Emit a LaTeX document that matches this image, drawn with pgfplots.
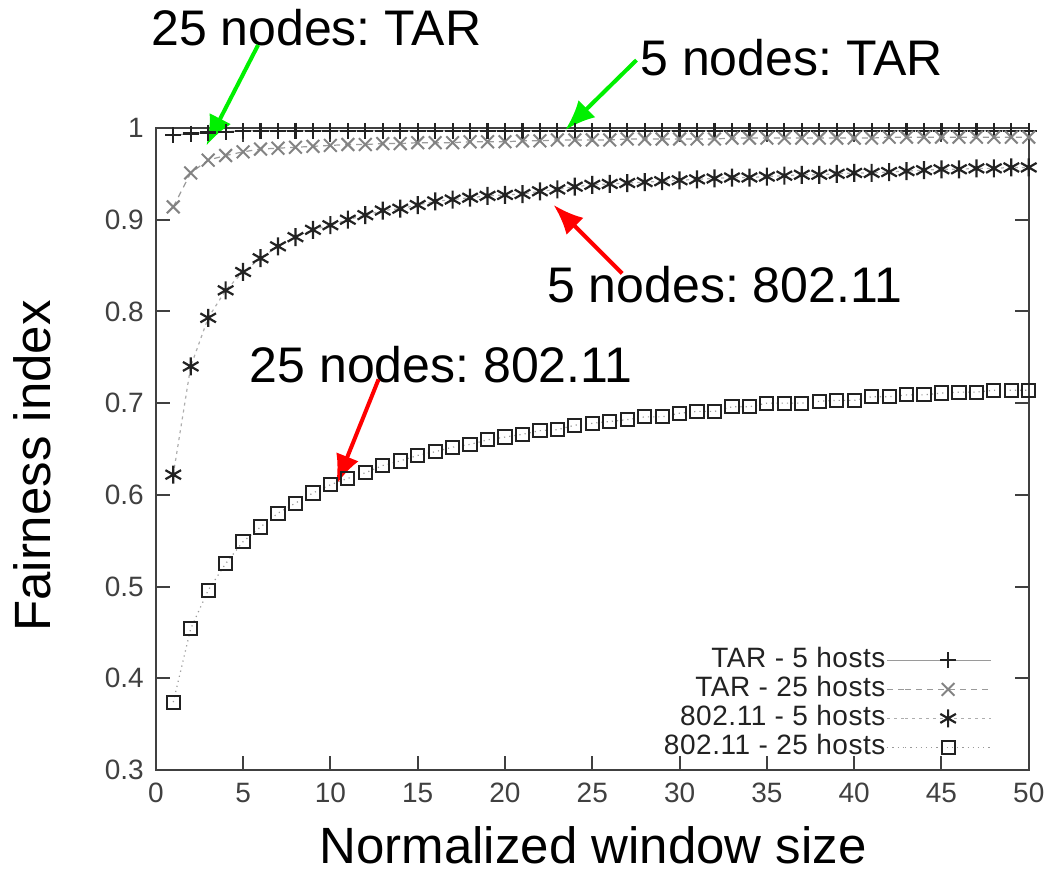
\documentclass[border=0pt]{standalone}
\usepackage{fontspec}
\setmainfont{Liberation Sans}
\newfontfamily\legendfont[LetterSpace=2]{Liberation Sans}
\usepackage{pgfplots}
\pgfplotsset{compat=1.18}
\usetikzlibrary{arrows.meta}

\definecolor{axisgray}{HTML}{404040}
\definecolor{linegray}{HTML}{9A9A9A}
\definecolor{markdark}{HTML}{222222}
\definecolor{argreen}{HTML}{00F000}
\definecolor{arred}{HTML}{FF0000}

% Fairness index vs normalized window size
\pgfplotstableread{
x tar5 tar25 wifi5 wifi25
1 0.992 0.914 0.622 0.374
2 0.994 0.951 0.740 0.454
3 0.995 0.965 0.793 0.496
4 0.996 0.970 0.823 0.525
5 0.997 0.974 0.843 0.549
6 0.997 0.977 0.858 0.565
7 0.997 0.978 0.871 0.580
8 0.997 0.979 0.881 0.591
9 0.997 0.980 0.889 0.602
10 0.997 0.981 0.894 0.611
11 0.997 0.982 0.900 0.618
12 0.997 0.982 0.905 0.624
13 0.997 0.983 0.910 0.632
14 0.997 0.983 0.912 0.637
15 0.997 0.984 0.916 0.643
16 0.997 0.984 0.920 0.647
17 0.997 0.984 0.922 0.652
18 0.997 0.985 0.924 0.655
19 0.997 0.985 0.926 0.660
20 0.997 0.985 0.927 0.663
21 0.997 0.986 0.928 0.666
22 0.997 0.986 0.931 0.670
23 0.997 0.987 0.933 0.671
24 0.997 0.987 0.936 0.676
25 0.997 0.987 0.938 0.678
26 0.997 0.987 0.939 0.680
27 0.997 0.988 0.940 0.682
28 0.997 0.988 0.941 0.685
29 0.997 0.988 0.942 0.685
30 0.997 0.988 0.943 0.689
31 0.997 0.988 0.944 0.691
32 0.997 0.988 0.945 0.691
33 0.997 0.989 0.946 0.696
34 0.997 0.989 0.946 0.696
35 0.997 0.989 0.947 0.700
36 0.997 0.989 0.948 0.700
37 0.997 0.989 0.949 0.700
38 0.997 0.989 0.949 0.702
39 0.997 0.989 0.950 0.703
40 0.997 0.989 0.951 0.703
41 0.997 0.989 0.951 0.707
42 0.997 0.990 0.952 0.707
43 0.997 0.990 0.953 0.709
44 0.997 0.990 0.954 0.709
45 0.997 0.990 0.955 0.711
46 0.997 0.990 0.955 0.712
47 0.997 0.990 0.956 0.712
48 0.997 0.990 0.956 0.714
49 0.997 0.990 0.957 0.714
50 0.997 0.990 0.957 0.714
}\fairness

\begin{document}
\frenchspacing
\begin{tikzpicture}
\begin{axis}[
    at={(0,0)}, anchor=south west,
    scale only axis,
    width=436.5pt, height=321pt,
    xmin=0, xmax=50, ymin=0.3, ymax=1,
    xtick={0,5,...,50},
    ytick={0.3,0.4,...,1.0},
    yticklabels={0.3,0.4,0.5,0.6,0.7,0.8,0.9,1},
    tick align=inside,
    major tick length=7pt,
    axis line style={axisgray, line width=1pt},
    every tick/.style={axisgray, line width=1pt},
    /pgf/number format/assume math mode=true,
    tick label style={font=\fontsize{14}{16}\selectfont, text=axisgray},
    xticklabel style={yshift=-3pt},
    yticklabel style={xshift=-2.5pt},
    xlabel={Normalized window size},
    ylabel={Fairness index},
    label style={font=\fontsize{25.5}{28}\selectfont},
    xlabel style={at={(axis description cs:0.501,-0.118)}, anchor=center, inner sep=0pt},
    ylabel style={at={(axis description cs:-0.1418,0.4735)}, anchor=center, inner sep=0pt, rotate=0},
    legend cell align=right,
    legend plot pos=right,
    legend style={draw=none, fill=none, font=\legendfont\fontsize{14}{14.5}\selectfont,
        at={(axis description cs:0.958,0.012)}, anchor=south east,
        inner sep=0pt, row sep=0pt, text=markdark,
        nodes={inner sep=0.5pt, text height=10.5pt, text depth=3pt}},
    legend image code/.code={
        \path (0pt,0pt) -- (9pt,0pt);
        \draw[mark repeat=2, mark phase=2, #1] plot coordinates {(9pt,0pt) (30.5pt,0pt) (52pt,0pt)};
    },
    clip=false,
]
\addplot[linegray, line width=0.6pt, mark=+, mark size=4pt,
    mark options={solid, markdark, line width=1.1pt}]
    table[x=x, y=tar5] {\fairness};
\addlegendentry{TAR - 5 hosts}
\addplot[linegray, line width=0.6pt, dash pattern=on 3pt off 2.5pt, mark=x, mark size=4.5pt,
    mark options={solid, linegray!85!black, line width=1pt}]
    table[x=x, y=tar25] {\fairness};
\addlegendentry{TAR - 25 hosts}
\addplot[linegray!80, line width=0.6pt, dash pattern=on 1.5pt off 2pt, mark=asterisk, mark size=4.5pt,
    mark options={solid, markdark, line width=1.1pt}]
    table[x=x, y=wifi5] {\fairness};
\addlegendentry{802.11 - 5 hosts}
\addplot[linegray, line width=0.6pt, dotted, mark=square, mark size=3.3pt,
    mark options={solid, markdark, line width=1pt}]
    table[x=x, y=wifi25] {\fairness};
\addlegendentry{802.11 - 25 hosts}

% annotations
\node[font=\fontsize{25}{28}\selectfont, inner sep=0pt] at (axis cs:9.19,1.109) {25 nodes: TAR};
\node[font=\fontsize{25}{28}\selectfont, inner sep=0pt] at (axis cs:36.41,1.0763) {5 nodes: TAR};
\node[font=\fontsize{25}{28}\selectfont, inner sep=0pt] at (axis cs:32.59,0.829) {5 nodes: 802.11};
\node[font=\fontsize{25}{28}\selectfont, inner sep=0pt] at (axis cs:16.35,0.7416) {25 nodes: 802.11};
\draw[argreen, line width=2pt, -{Latex[length=15pt, width=12pt]}] (axis cs:5.86,1.0905) -- (axis cs:2.9,0.981);
\draw[argreen, line width=2pt, -{Latex[length=15pt, width=12pt]}] (axis cs:27.53,1.074) -- (axis cs:23.46,0.998);
\draw[arred, line width=2pt, -{Latex[length=15pt, width=12pt]}] (axis cs:26.71,0.8415) -- (axis cs:22.79,0.916);
\draw[arred, line width=2pt, -{Latex[length=15pt, width=12pt]}] (axis cs:12.76,0.726) -- (axis cs:10.33,0.611);
\end{axis}
\pgfresetboundingbox
\path (-77.9pt,385pt) rectangle (445.1pt,-53pt);
\end{tikzpicture}
\end{document}
